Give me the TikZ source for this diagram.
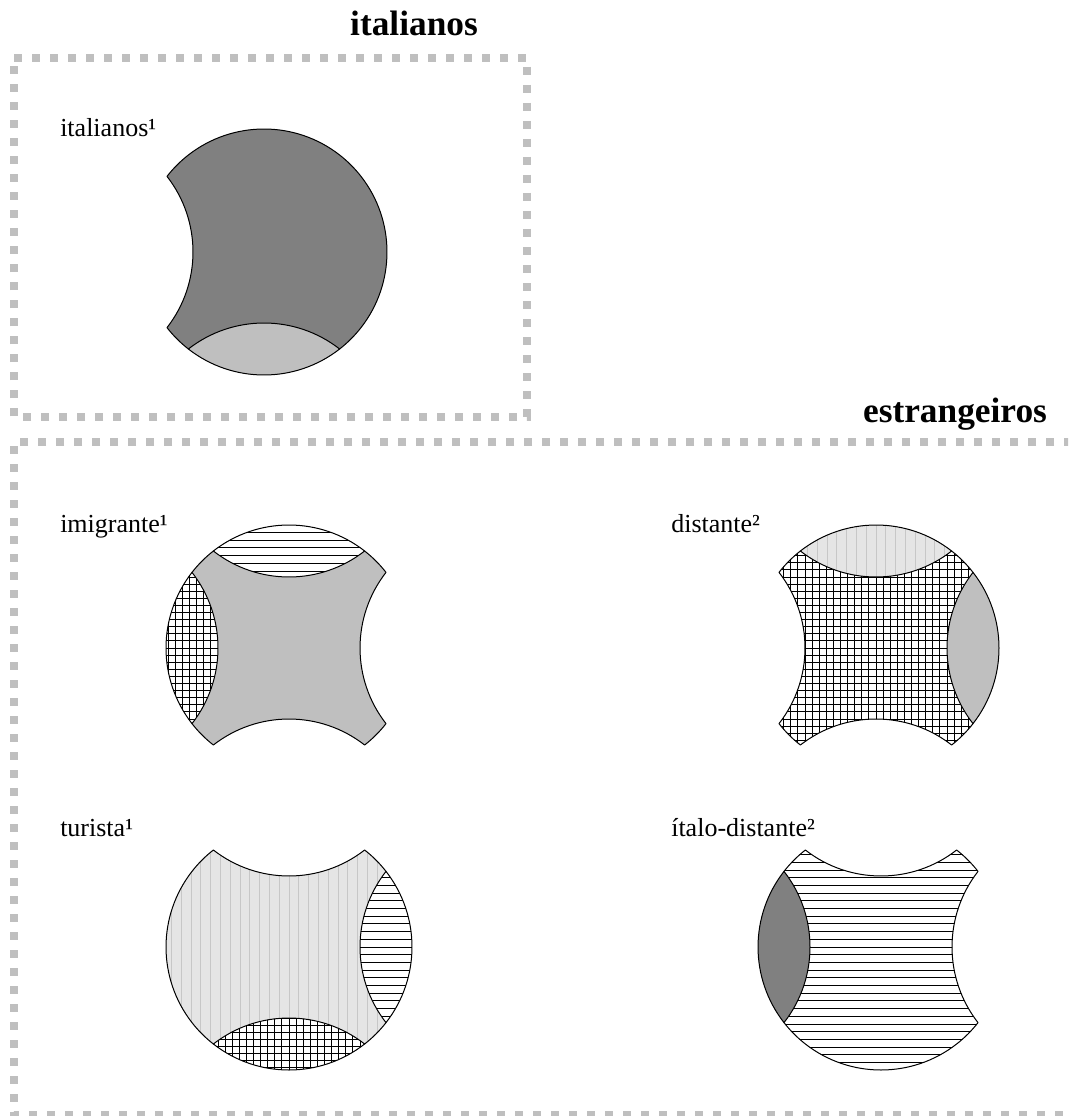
\documentclass[tikz,border=0pt]{standalone}
\usepackage{fontspec}
\setmainfont{Liberation Serif}
\tikzset{
  outl/.style={draw=black,line width=0.75pt,line cap=round,line join=round},
  pat/.style={draw=black,line width=0.65pt},
  vpat/.style={draw=black!22,line width=0.75pt},
  border/.style={draw=black!25,line width=6pt,dash pattern=on 6pt off 7.5pt},
  lbl/.style={anchor=base west,inner sep=0pt,font=\fontsize{19.5}{23}\selectfont},
  ttl/.style={anchor=base,inner sep=0pt,font=\fontsize{26.5}{30}\selectfont\bfseries},
}
\newcommand\FillDark{\fill[black!50] (-130,-130) rectangle (130,130);}
\newcommand\FillLight{\fill[black!25] (-130,-130) rectangle (130,130);}
\newcommand\FillH{\fill[white] (-130,-130) rectangle (130,130);
  \foreach \i in {-17,...,17} \draw[pat] (-130,\i*7.7) -- (130,\i*7.7);}
\newcommand\FillGrid{\fill[white] (-130,-130) rectangle (130,130);
  \foreach \i in {-19,...,19} {\draw[pat] (-130,\i*7.1) -- (130,\i*7.1); \draw[pat] (\i*7.1,-130) -- (\i*7.1,130);}}
\newcommand\FillV{\fill[black!10] (-130,-130) rectangle (130,130);
  \foreach \i in {-13,...,13} \draw[vpat] (\i*9.8,-130) -- (\i*9.8,130);}
% boundary segments: O = outer arc, B = bite arc; each followed by a corner arc
\newcommand\SegO[1]{arc[start angle=#1-37.94, end angle=#1+37.94, radius=123] arc[start angle=#1+37.94, end angle=#1+52.06, radius=123]}
\newcommand\SegB[1]{arc[start angle=#1+217.94, end angle=#1+142.06, radius=123] arc[start angle=#1+37.94, end angle=#1+52.06, radius=123]}
\newcommand\LensReg[2]{\begin{scope}\clip (#1:194) circle[radius=123]; #2\end{scope}}
\newcommand\InArc[1]{\draw[outl] (#1:194) ++(#1+180-37.94:123) arc[start angle=#1+180-37.94, end angle=#1+180+37.94, radius=123];}
\begin{document}
\begin{tikzpicture}[x=0.75pt,y=-0.75pt]
\useasboundingbox (0,0) rectangle (1068,1116);
\clip (0,0) rectangle (1068,1116);
\fill[white] (0,0) rectangle (1068,1116);
% borders
\draw[border] (14,58) -- (527,58) -- (527,417) -- (14,417) -- cycle;
\draw[border] (1090,442) -- (14,442) -- (14,1115) -- (1090,1115);
% titles
\node[ttl] (t1) at (414,36) {italianos};
\node[ttl] (t2) at (955,422) {estrangeiros};
% labels
\node[lbl] (l1) at (60,137) {italianos¹};
\node[lbl] (l2) at (60,532) {imigrante¹};
\node[lbl] (l3) at (60,836) {turista¹};
\node[lbl] (l4) at (671,532) {distante²};
\node[lbl] (l5) at (671,836) {ítalo-distante²};
% directions: 0 right, 90 bottom, 180 left, 270 top
% italianos
\begin{scope}[shift={(264,252)}]
\def\bnd{(-37.94:123) \SegO{0} \SegO{90} \SegB{180} \SegO{270} -- cycle}
\begin{scope}\clip \bnd; \FillDark \LensReg{90}{\FillLight}\end{scope}
\draw[outl] \bnd;
\InArc{90}
\end{scope}
% imigrante
\begin{scope}[shift={(289,648)}]
\def\bnd{(-37.94:123) \SegB{0} \SegB{90} \SegO{180} \SegO{270} -- cycle}
\begin{scope}\clip \bnd; \FillLight \LensReg{270}{\FillH} \LensReg{180}{\FillGrid}\end{scope}
\draw[outl] \bnd;
\InArc{180} \InArc{270}
\end{scope}
% distante
\begin{scope}[shift={(876,648)}]
\def\bnd{(-37.94:123) \SegO{0} \SegB{90} \SegB{180} \SegO{270} -- cycle}
\begin{scope}\clip \bnd; \FillGrid \LensReg{270}{\FillV} \LensReg{0}{\FillLight}\end{scope}
\draw[outl] \bnd;
\InArc{0} \InArc{270}
\end{scope}
% turista
\begin{scope}[shift={(289,947)}]
\def\bnd{(-37.94:123) \SegO{0} \SegO{90} \SegO{180} \SegB{270} -- cycle}
\begin{scope}\clip \bnd; \FillV \LensReg{0}{\FillH} \LensReg{90}{\FillGrid}\end{scope}
\draw[outl] \bnd;
\InArc{0} \InArc{90}
\end{scope}
% italo-distante
\begin{scope}[shift={(881,947)}]
\def\bnd{(-37.94:123) \SegB{0} \SegO{90} \SegO{180} \SegB{270} -- cycle}
\begin{scope}\clip \bnd; \FillH \LensReg{180}{\FillDark}\end{scope}
\draw[outl] \bnd;
\InArc{180}
\end{scope}
\end{tikzpicture}
\end{document}
